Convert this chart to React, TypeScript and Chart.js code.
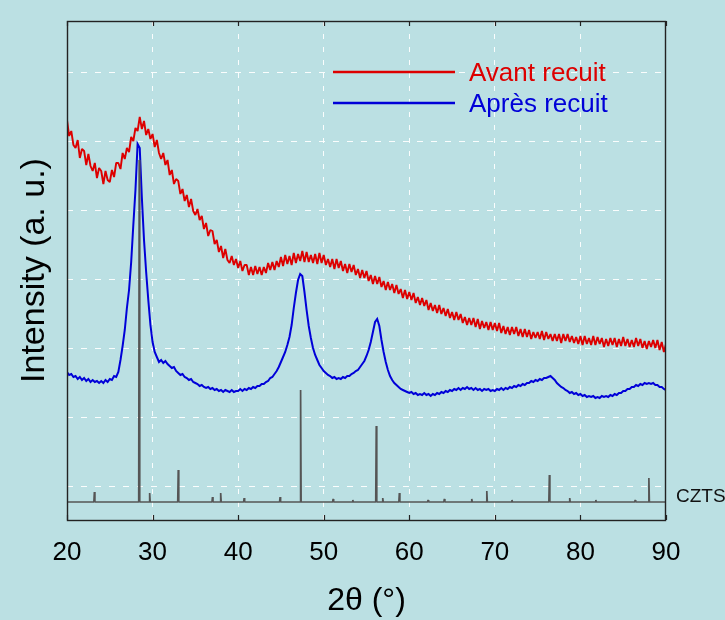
import React, { useEffect, useRef } from 'react';
import { Chart, registerables } from 'chart.js';

Chart.register(...registerables);

// 2θ sampling of the measured patterns
const X_START = 20;
const X_STEP = 0.25;

// x axis ticks (2θ, degrees)
const xTicks = [20, 30, 40, 50, 60, 70, 80, 90];
// y grid positions (arbitrary intensity units)
const yGrid = [34, 103, 172, 241, 310, 379, 448];
const Y_MIN = 0;
const Y_MAX = 499;

const seriesNames = ['Avant recuit', 'Après recuit'];

// "Avant recuit" intensity (a.u.), every 0.25° from 20° to 90°
const avantRecuit = [
  400, 384, 389, 375, 372, 380, 362, 371, 369, 355, 366, 354, 349, 357, 342, 352,
  349, 336, 349, 340, 338, 350, 343, 357, 357, 351, 367, 361, 372, 368, 383, 379,
  392, 389, 403, 391, 399, 385, 391, 381, 386, 373, 380, 367, 361, 367, 355, 360,
  345, 350, 336, 341, 339, 326, 331, 319, 325, 313, 321, 309, 305, 311, 300, 304,
  291, 297, 284, 290, 289, 276, 280, 268, 274, 262, 271, 260, 257, 264, 255, 261,
  252, 259, 249, 255, 255, 245, 253, 245, 254, 246, 253, 245, 253, 247, 257, 250,
  258, 250, 259, 253, 263, 254, 265, 256, 264, 255, 267, 257, 266, 259, 269, 258,
  268, 258, 265, 257, 266, 256, 267, 257, 265, 255, 261, 253, 261, 251, 261, 252,
  259, 249, 256, 247, 256, 248, 255, 245, 251, 242, 250, 242, 249, 239, 245, 236,
  244, 236, 243, 233, 239, 230, 238, 230, 236, 227, 235, 226, 231, 222, 230, 221,
  228, 220, 227, 217, 223, 215, 222, 214, 220, 210, 217, 209, 215, 207, 215, 206,
  212, 204, 211, 202, 208, 200, 208, 200, 206, 197, 203, 195, 202, 195, 202, 193,
  201, 191, 199, 192, 198, 190, 198, 190, 197, 189, 197, 187, 194, 186, 193, 185,
  193, 186, 193, 184, 191, 183, 191, 183, 190, 181, 188, 182, 188, 181, 189, 180,
  188, 181, 186, 179, 186, 179, 186, 177, 186, 179, 186, 178, 184, 177, 183, 176,
  184, 175, 184, 176, 182, 175, 184, 175, 183, 176, 182, 173, 181, 174, 182, 175,
  182, 173, 181, 174, 183, 174, 181, 173, 180, 173, 182, 174, 181, 172, 179, 171,
  179, 173, 180, 172, 180, 170, 178, 168, 176,
];

// "Après recuit" intensity (a.u.), every 0.25° from 20° to 90°
const apresRecuit = [
  148, 145, 146, 143, 144, 141, 143, 140, 142, 139, 141, 138, 140, 138, 139, 137,
  139, 137, 140, 138, 141, 140, 144, 143, 148, 160, 174, 190, 212, 230, 258, 295,
  330, 376, 372, 322, 280, 248, 220, 195, 178, 168, 163, 158, 160, 157, 159, 156,
  154, 152, 153, 149, 147, 145, 146, 143, 142, 140, 141, 138, 137, 136, 134, 135,
  133, 132, 133, 131, 132, 130, 131, 129, 130, 128, 130, 129, 128, 130, 128, 129,
  129, 131, 129, 131, 130, 132, 131, 133, 132, 134, 134, 136, 136, 138, 139, 142,
  143, 146, 149, 153, 158, 163, 168, 175, 183, 195, 212, 227, 240, 246, 244, 228,
  210, 194, 182, 172, 165, 160, 155, 152, 149, 147, 145, 144, 142, 143, 141, 142,
  141, 143, 142, 144, 144, 146, 147, 149, 150, 153, 156, 159, 164, 170, 178, 188,
  198, 201, 194, 180, 168, 158, 150, 144, 140, 137, 135, 133, 131, 130, 129, 128,
  127, 128, 126, 127, 125, 126, 125, 127, 125, 126, 124, 126, 125, 127, 126, 128,
  127, 129, 128, 130, 129, 131, 130, 132, 130, 132, 131, 133, 131, 132, 130, 132,
  130, 131, 129, 131, 130, 131, 129, 130, 129, 131, 130, 132, 130, 132, 131, 133,
  132, 134, 133, 135, 134, 136, 135, 137, 137, 139, 138, 140, 139, 141, 140, 142,
  142, 143, 144, 142, 140, 137, 135, 133, 132, 130, 129, 127, 128, 126, 127, 125,
  126, 124, 125, 123, 124, 123, 124, 122, 123, 122, 124, 123, 124, 123, 125, 124,
  126, 125, 127, 127, 129, 129, 131, 131, 133, 133, 135, 134, 136, 135, 137, 136,
  137, 136, 137, 135, 135, 133, 133, 131, 130,
];

// CZTS reference pattern (stick peaks)
const cztsLabel = 'CZTS';
const cztsBaseline = 18;
const cztsPeakPos = [23.2, 28.44, 29.66, 33.0, 37.0, 37.96, 40.7, 44.9, 47.3, 51.1, 53.4, 56.14, 56.9, 58.84, 62.2, 64.1, 67.3, 69.06, 72.0, 76.37, 78.75, 81.8, 86.4, 88.0];
const cztsPeakInt = [28, 360, 27, 50, 23, 27, 22, 23, 130, 21, 20, 94, 22, 27, 20, 21, 21, 29, 20, 45, 22, 20, 20, 42];

const FONT = "'Liberation Sans', Arial, Helvetica, sans-serif";
const BG = 'rgb(187,224,227)';
const RED = '#dd0000';
const BLUE = '#0000d8';
const GRAY = '#555555';
const GRID = 'rgba(255,255,255,0.92)';

function buildSeries(values: number[]) {
  return values.map((v, i) => ({ x: X_START + i * X_STEP, y: v }));
}

function buildSticks() {
  const pts: { x: number; y: number }[] = [{ x: 20, y: cztsBaseline }];
  cztsPeakPos.forEach((p, i) => {
    pts.push({ x: p - 0.06, y: cztsBaseline });
    pts.push({ x: p, y: cztsPeakInt[i] });
    pts.push({ x: p + 0.06, y: cztsBaseline });
  });
  pts.push({ x: 90, y: cztsBaseline });
  return pts;
}

const framePlugin = {
  id: 'frameAndLabels',
  afterDraw(chart: any) {
    const { ctx, chartArea } = chart;
    const { left, right, top, bottom } = chartArea;
    const xs = chart.scales.x;
    ctx.save();
    // frame
    ctx.strokeStyle = '#222';
    ctx.lineWidth = 1.4;
    ctx.setLineDash([]);
    ctx.strokeRect(left + 0.5, top + 0.5, right - left - 1, bottom - top);
    // inward tick marks on top and bottom
    ctx.lineWidth = 1.2;
    xTicks.forEach((t) => {
      const px = Math.round(xs.getPixelForValue(t)) + 0.5;
      ctx.beginPath();
      ctx.moveTo(px, bottom);
      ctx.lineTo(px, bottom - 5);
      ctx.moveTo(px, top);
      ctx.lineTo(px, top + 5);
      ctx.stroke();
    });
    // legend
    const entries = [
      { name: seriesNames[0], color: RED, y: 72 },
      { name: seriesNames[1], color: BLUE, y: 103 },
    ];
    ctx.font = `26px ${FONT}`;
    ctx.textBaseline = 'alphabetic';
    ctx.textAlign = 'left';
    entries.forEach((e) => {
      ctx.strokeStyle = e.color;
      ctx.lineWidth = 2.5;
      ctx.beginPath();
      ctx.moveTo(333, e.y);
      ctx.lineTo(455, e.y);
      ctx.stroke();
      ctx.fillStyle = e.color;
      ctx.fillText(e.name, 469, e.y + 8.5);
    });
    // CZTS label
    ctx.font = `19px ${FONT}`;
    ctx.fillStyle = '#111';
    const by = chart.scales.y.getPixelForValue(cztsBaseline);
    ctx.fillText(cztsLabel, right + 10, by);
    ctx.restore();
  },
};

export default function App() {
  const ref = useRef<HTMLCanvasElement | null>(null);

  useEffect(() => {
    if (!ref.current) return;
    const chart = new Chart(ref.current, {
      type: 'line',
      data: {
        datasets: [
          {
            label: cztsLabel,
            data: buildSticks(),
            borderColor: GRAY,
            borderWidth: 1.7,
            borderJoinStyle: 'bevel',
            pointRadius: 0,
            tension: 0,
          },
          {
            label: seriesNames[1],
            data: buildSeries(apresRecuit),
            borderColor: BLUE,
            borderWidth: 2,
            pointRadius: 0,
            tension: 0,
          },
          {
            label: seriesNames[0],
            data: buildSeries(avantRecuit),
            borderColor: RED,
            borderWidth: 1.9,
            borderJoinStyle: 'bevel',
            pointRadius: 0,
            tension: 0,
          },
        ],
      },
      options: {
        animation: false,
        responsive: false,
        maintainAspectRatio: false,
        events: [],
        layout: { padding: { left: 0, right: 59, top: 21, bottom: 0 } },
        plugins: {
          legend: { display: false },
          tooltip: { enabled: false },
        },
        scales: {
          x: {
            type: 'linear',
            min: 20,
            max: 90,
            afterBuildTicks: (scale: any) => {
              scale.ticks = xTicks.map((v) => ({ value: v }));
            },
            afterFit: (scale: any) => {
              scale.height = 100;
            },
            ticks: {
              color: '#000',
              font: { family: FONT, size: 26 },
              padding: 17,
              maxRotation: 0,
              autoSkip: false,
            },
            grid: {
              drawTicks: false,
              lineWidth: 1,
              color: (c: any) =>
                c.tick && (c.tick.value === 20 || c.tick.value === 90) ? 'rgba(0,0,0,0)' : GRID,
            },
            border: { display: false, dash: [5, 8] },
            title: {
              display: true,
              text: '2θ (°)',
              color: '#000',
              font: { family: FONT, size: 32 },
              padding: { top: 0, bottom: 0 },
            },
          },
          y: {
            type: 'linear',
            min: Y_MIN,
            max: Y_MAX,
            afterBuildTicks: (scale: any) => {
              scale.ticks = yGrid.map((v) => ({ value: v }));
            },
            afterFit: (scale: any) => {
              scale.width = 67;
            },
            ticks: { display: false },
            grid: { drawTicks: false, lineWidth: 1, color: GRID },
            border: { display: false, dash: [6, 8] },
            title: {
              display: true,
              text: 'Intensity (a. u.)',
              color: '#000',
              font: { family: FONT, size: 34 },
              padding: { top: 14, bottom: 0 },
            },
          },
        },
      },
      plugins: [framePlugin],
    });
    return () => chart.destroy();
  }, []);

  return (
    <div style={{ position: 'fixed', left: 0, top: 0, width: 725, height: 620, background: BG }}>
      <canvas ref={ref} width={725} height={620} style={{ display: 'block' }} />
    </div>
  );
}
